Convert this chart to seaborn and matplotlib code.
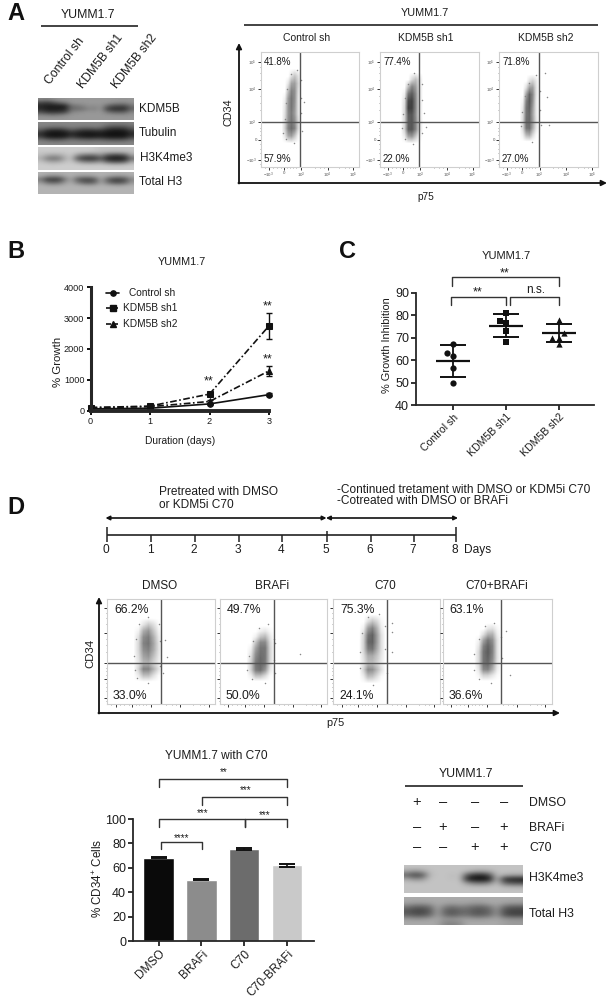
import numpy as np
import pandas as pd
import matplotlib
matplotlib.use('Agg')
import matplotlib.pyplot as plt
import seaborn as sns
from matplotlib.lines import Line2D

W, H = 612, 1000
TXT = '#1c1c1c'

###--- Panel B values
days = [0, 1, 2, 3]
growth_control = [60, 80, 220, 520]
growth_sh1 = [100, 150, 540, 2750]
growth_sh2 = [100, 130, 300, 1290]
err_control = [10, 10, 30, 40]
err_sh1 = [20, 20, 40, 430]
err_sh2 = [20, 20, 50, 170]

###--- Panel C values
inhib_groups = ['Control sh', 'KDM5B sh1', 'KDM5B sh2']
inhib_control = [67.3, 63, 62, 56.3, 49.7]
inhib_sh1 = [81, 77.5, 76.5, 73, 68]
inhib_sh2 = [78, 72, 70, 70, 67]
inhib_mean = [59.6, 75.3, 72]
inhib_sd = [7, 5, 4]

###--- Panel D bars
bar_groups = ['DMSO', 'BRAFi', 'C70', 'C70-BRAFi']
bar_values = [68.4, 50.4, 75.6, 62]
bar_err = [0.2, 0.7, 0.7, 1.0]
bar_colors = ['#0a0a0a', '#8c8c8c', '#6c6c6c', '#c9c9c9']

###--- Flow cytometry, A
flow_a_titles = ['Control sh', 'KDM5B sh1', 'KDM5B sh2']
flow_a_upper = ['41.8%', '77.4%', '71.8%']
flow_a_lower = ['57.9%', '22.0%', '27.0%']
flow_a_xext = [(22, 40), (22, 42), (22, 40)]
flow_a_yext = [(22, 83), (22, 80), (23, 78)]
density_a1 = [[0, 0, 10, 18, 10], [0, 8, 28, 30, 15], [0, 20, 38, 34, 12],
              [5, 30, 42, 34, 10], [8, 32, 42, 32, 10], [10, 32, 40, 30, 10],
              [12, 34, 42, 34, 14], [15, 38, 45, 38, 14], [8, 26, 30, 18, 4]]
density_a2 = [[0, 0, 12, 20, 10], [0, 20, 38, 30, 10], [5, 42, 50, 36, 10],
              [10, 55, 58, 38, 10], [12, 58, 58, 38, 10], [12, 50, 52, 36, 10],
              [12, 48, 52, 38, 12], [14, 50, 52, 38, 12], [6, 28, 32, 18, 4]]
density_a3 = [[0, 0, 10, 15, 8], [0, 10, 30, 30, 10], [0, 28, 48, 36, 10],
              [4, 38, 50, 34, 8], [8, 42, 48, 30, 8], [10, 42, 46, 28, 8],
              [12, 44, 46, 30, 10], [12, 42, 44, 26, 8], [5, 22, 26, 12, 2]]
dots_a = [
    [(44, 56.5), (42, 31), (22, 30), (24, 42), (26, 56), (27, 68), (31, 81), (37, 84), (41, 76), (40.5, 60), (41, 47), (34, 21), (25, 24)],
    [(46.7, 35), (44.6, 47), (22, 34), (23, 46), (25, 60), (28, 72), (35, 82), (43, 72), (43, 58), (42.5, 30), (33, 20), (25, 24)],
    [(46, 82), (48.5, 61), (42.5, 36.5), (50.5, 36.5), (22, 36), (23, 48), (26, 62), (30, 73), (37, 80), (41, 66), (41, 50), (33, 22)],
]

###--- Flow cytometry, D
flow_d_titles = ['DMSO', 'BRAFi', 'C70', 'C70+BRAFi']
flow_d_upper = ['66.2%', '49.7%', '75.3%', '63.1%']
flow_d_lower = ['33.0%', '50.0%', '24.1%', '36.6%']
flow_d_xext = [(26, 51), (26.5, 50), (26, 48.6), (29.7, 52.5)]
flow_d_yext = [(23, 80), (23, 73), (21, 83), (23, 75)]
density_d1 = [[0, 8, 16, 10, 2], [4, 25, 32, 18, 5], [10, 35, 40, 25, 8],
              [12, 38, 42, 28, 10], [12, 34, 38, 26, 10], [10, 28, 32, 20, 8],
              [8, 22, 24, 14, 6], [14, 38, 38, 24, 10], [6, 20, 20, 10, 2]]
density_d2 = [[0, 0, 5, 8, 3], [0, 5, 18, 22, 8], [0, 18, 36, 36, 12],
              [4, 28, 42, 42, 14], [8, 34, 44, 42, 14], [12, 38, 46, 42, 14],
              [14, 42, 46, 40, 12], [14, 40, 44, 32, 8], [5, 20, 20, 12, 2]]
density_d3 = [[0, 10, 18, 12, 3], [5, 30, 38, 24, 6], [12, 42, 48, 30, 10],
              [14, 46, 48, 30, 10], [14, 40, 42, 26, 10], [10, 26, 26, 18, 8],
              [8, 20, 20, 14, 6], [14, 36, 34, 22, 10], [6, 20, 18, 10, 2]]
density_d4 = [[0, 0, 8, 10, 3], [0, 10, 24, 24, 6], [4, 28, 42, 34, 10],
              [8, 38, 48, 38, 10], [12, 42, 50, 38, 10], [12, 42, 48, 36, 10],
              [12, 42, 46, 32, 8], [8, 36, 38, 24, 6], [3, 14, 14, 8, 2]]
dots_d = [
    [(53.7, 61), (55.8, 45), (26, 32), (25, 46), (27, 62), (30, 76), (38, 83), (48, 76), (49, 60), (49, 36), (38, 20), (28, 25), (52, 30)],
    [(74.5, 47.6), (51.7, 58), (26, 32), (27, 46), (31, 60), (37, 72), (45, 76), (51, 62), (51, 42), (42, 20), (30, 24), (52, 30)],
    [(54.8, 77), (54.8, 68.6), (55.3, 49.5), (25, 34), (25, 50), (27, 68), (33, 83), (43, 86), (49, 74), (49, 52), (50, 30), (37, 18)],
    [(58, 70), (61.6, 27.6), (29, 32), (29, 48), (33, 62), (39, 74), (47, 77), (53, 64), (54, 44), (44, 20), (33, 24)],
]

###--- Western blots, grey levels read lane by lane
blot_kdm5b = [[135, 130, 140, 148, 150, 152, 152, 152, 152, 152, 152, 152, 152, 150, 150, 150],
              [70, 60, 75, 100, 115, 145, 150, 150, 152, 152, 152, 150, 140, 135, 135, 145],
              [40, 30, 30, 30, 35, 110, 120, 130, 145, 140, 150, 105, 80, 75, 75, 115],
              [45, 30, 30, 30, 35, 105, 110, 115, 135, 130, 150, 70, 50, 45, 50, 100],
              [80, 60, 55, 60, 70, 130, 140, 145, 150, 148, 152, 120, 100, 95, 100, 135],
              [135, 130, 125, 130, 140, 150, 152, 152, 152, 152, 152, 150, 148, 146, 146, 150],
              [150, 150, 150, 150, 150, 152, 152, 152, 152, 152, 152, 152, 152, 152, 152, 152]]
blot_tubulin = [[135, 135, 135, 135, 135, 135, 135, 135, 135, 135, 135, 130, 125, 125, 125, 130],
                [125, 120, 115, 115, 120, 128, 125, 120, 120, 125, 120, 90, 80, 80, 85, 105],
                [90, 55, 42, 42, 55, 85, 70, 55, 52, 60, 60, 40, 30, 30, 35, 70],
                [45, 22, 18, 18, 22, 40, 30, 22, 20, 22, 26, 18, 16, 16, 18, 40],
                [65, 32, 26, 26, 32, 60, 45, 32, 28, 32, 36, 26, 24, 24, 28, 60],
                [120, 105, 95, 95, 105, 118, 110, 105, 100, 105, 105, 95, 90, 90, 95, 115],
                [135, 135, 135, 135, 135, 135, 135, 135, 135, 135, 135, 135, 135, 135, 135, 135]]
blot_h3k4 = [[205, 205, 205, 205, 205, 205, 205, 205, 205, 200, 195, 195, 195, 195, 195, 195],
             [200, 200, 200, 200, 200, 205, 200, 195, 195, 190, 185, 180, 175, 175, 180, 190],
             [190, 170, 160, 165, 185, 200, 150, 120, 110, 115, 140, 90, 70, 70, 85, 160],
             [175, 130, 115, 125, 170, 195, 95, 60, 50, 55, 90, 40, 25, 25, 35, 110],
             [195, 175, 165, 170, 190, 200, 165, 135, 125, 130, 150, 105, 85, 85, 100, 165],
             [205, 205, 200, 205, 205, 205, 205, 200, 200, 200, 200, 195, 190, 190, 195, 200],
             [205, 205, 205, 205, 205, 205, 205, 205, 205, 205, 205, 205, 205, 205, 205, 205]]
blot_total = [[178, 178, 178, 178, 178, 178, 178, 178, 178, 178, 178, 178, 178, 178, 178, 178],
              [170, 150, 140, 145, 165, 175, 160, 155, 155, 165, 175, 165, 155, 150, 155, 170],
              [120, 65, 58, 62, 120, 165, 100, 75, 72, 90, 165, 105, 70, 65, 80, 135],
              [155, 115, 100, 110, 150, 172, 130, 100, 88, 105, 165, 120, 88, 82, 98, 150],
              [178, 172, 168, 170, 175, 178, 175, 170, 165, 170, 176, 172, 168, 165, 170, 176],
              [180, 180, 180, 180, 180, 180, 180, 180, 180, 180, 180, 180, 180, 180, 180, 180],
              [180, 180, 180, 180, 180, 180, 180, 180, 180, 180, 180, 180, 180, 180, 180, 180]]
blot_h3k4_d = [[195, 195, 195, 195, 195, 195, 195, 195, 195, 195, 195, 195, 195, 195, 195, 195],
               [165, 150, 165, 190, 195, 195, 195, 195, 185, 170, 165, 175, 192, 195, 195, 195],
               [100, 70, 85, 185, 195, 195, 188, 195, 90, 50, 45, 80, 190, 175, 165, 165],
               [165, 140, 150, 192, 195, 195, 190, 195, 40, 15, 12, 25, 185, 50, 35, 30],
               [195, 192, 192, 195, 195, 195, 195, 195, 150, 120, 115, 135, 190, 105, 85, 80],
               [195, 195, 195, 195, 195, 195, 195, 195, 192, 190, 190, 192, 195, 185, 180, 180],
               [195, 195, 195, 195, 195, 195, 195, 195, 195, 195, 195, 195, 195, 195, 195, 195]]
blot_total_d = [[170, 170, 170, 170, 170, 170, 170, 170, 170, 170, 170, 170, 170, 170, 170, 170],
                [160, 155, 155, 160, 168, 165, 160, 165, 160, 155, 155, 165, 168, 160, 155, 155],
                [115, 95, 95, 110, 165, 125, 110, 125, 120, 105, 100, 120, 155, 105, 90, 90],
                [85, 70, 70, 90, 160, 100, 85, 100, 105, 85, 85, 100, 145, 80, 65, 65],
                [100, 85, 85, 105, 160, 110, 95, 110, 115, 95, 95, 110, 150, 85, 70, 70],
                [155, 150, 150, 160, 165, 150, 150, 155, 160, 155, 155, 160, 165, 150, 145, 145],
                [170, 170, 170, 170, 165, 135, 130, 140, 170, 170, 170, 170, 170, 160, 155, 155]]

###--- Row labels, +/- table
treat_rows = ['DMSO', 'BRAFi', 'C70']
treat_signs = [['+', '\u2013', '\u2013', '\u2013'],
               ['\u2013', '+', '\u2013', '+'],
               ['\u2013', '\u2013', '+', '+']]
timeline_days = [0, 1, 2, 3, 4, 5, 6, 7, 8]


sns.set_theme(style='ticks')
plt.rcParams['font.family'] = ['Liberation Sans', 'DejaVu Sans']
plt.rcParams['text.color'] = TXT
plt.rcParams['axes.labelcolor'] = TXT
plt.rcParams['xtick.labelcolor'] = TXT
plt.rcParams['ytick.labelcolor'] = TXT
plt.rcParams['mathtext.default'] = 'regular'

fig = plt.figure(figsize=(W / 100, H / 100), dpi=100)


def px_axes(x0, y0, x1, y1):
    return fig.add_axes([x0 / W, 1 - y1 / H, (x1 - x0) / W, (y1 - y0) / H])


###--- Overlay in picture pixels, for text, brackets and arrows
ov = fig.add_axes([0, 0, 1, 1], zorder=20)
ov.set_xlim(0, W)
ov.set_ylim(H, 0)
ov.axis('off')
ov.patch.set_alpha(0)


def put(x, y, s, size=8, ha='center', va='center', **kw):
    ov.text(x, y, s, fontsize=size, ha=ha, va=va, **kw)


def hline(x0, x1, y, lw=1.2, color='#222222'):
    ov.add_line(Line2D([x0, x1], [y, y], lw=lw, color=color, solid_capstyle='butt'))


def vline(x, y0, y1, lw=1.2, color='#222222'):
    ov.add_line(Line2D([x, x], [y0, y1], lw=lw, color=color, solid_capstyle='butt'))


def bracket(x0, x1, y, foot, lw=1.0, color='#333333'):
    ov.add_line(Line2D([x0, x0, x1, x1], [foot, y, y, foot], lw=lw, color=color))


def arrow(x0, y0, x1, y1, style='-|>', lw=1.2, scale=8):
    ov.annotate('', xy=(x1, y1), xytext=(x0, y0),
                arrowprops=dict(arrowstyle=style, lw=lw, color='#111111', shrinkA=0, shrinkB=0,
                                mutation_scale=scale))


def blot(grid, x0, y0, x1, y1):
    ax = px_axes(x0, y0, x1, y1)
    ax.imshow(np.array(grid, dtype=float), cmap='gray', vmin=0, vmax=255, aspect='auto',
              interpolation='bicubic')
    ax.axis('off')


def flow_panel(box, density, xext, yext, vpos, dots, labels=False):
    ax = px_axes(*box)
    grid = np.pad(np.array(density, dtype=float), 1)
    dx = (xext[1] - xext[0]) / 5 * 0.7
    dy = (yext[1] - yext[0]) / 9 * 0.7
    ax.imshow(grid, cmap='gray_r', vmin=0, vmax=78, aspect='auto', interpolation='bilinear',
              extent=(xext[0] - dx, xext[1] + dx, yext[0] - dy, yext[1] + dy))
    sns.scatterplot(x=[p[0] for p in dots], y=[p[1] for p in dots], s=1.2, color='#888888',
                    linewidth=0, legend=False, ax=ax)
    ax.set_xlim(0, 100)
    ax.set_ylim(0, 100)
    ax.axvline(vpos, color='#555555', lw=1.0)
    ax.axhline(39, color='#555555', lw=1.0)
    for s in ax.spines.values():
        s.set_color('#cfcfcf')
        s.set_linewidth(0.8)
    ax.set_xticks([8, 23.5, 41, 68, 94])
    ax.set_yticks([6, 23.5, 39, 67.8, 91.3])
    ax.set_xticks([4, 12, 16, 20, 27, 30, 33, 36, 55, 60, 64, 80, 86, 90], minor=True)
    ax.set_yticks([3, 12, 16, 20, 28, 31, 34, 50, 56, 62, 76, 82, 87], minor=True)
    ax.tick_params(which='major', length=2, width=0.7, color='#333333', pad=1, direction='out')
    ax.tick_params(which='minor', length=1, width=0.4, color='#555555', direction='out')
    if labels:
        ax.set_xticklabels(['$-10^3$', '0', '$10^3$', '$10^4$', '$10^5$'], fontsize=3.2, color='#555555')
        ax.set_yticklabels(['$-10^3$', '0', '$10^3$', '$10^4$', '$10^5$'], fontsize=3.2, color='#555555')
    else:
        ax.set_xticklabels([])
        ax.set_yticklabels([])
    return ax


###--- Panel A
put(16, 13, 'A', 17, weight='bold', color='#111111')
put(88, 15, 'YUMM1.7', 8.8)
hline(41, 137.5, 26, 1.2)
for cx, s in zip([65, 101, 135], flow_a_titles):
    put(cx, 61, s, 8.8, rotation=52, rotation_mode='anchor')
blot(blot_kdm5b, 37.5, 98, 133, 120)
blot(blot_tubulin, 37.5, 122, 133, 145)
blot(blot_h3k4, 37.5, 147, 133, 170)
blot(blot_total, 37.5, 172, 133, 194)
put(139, 109, 'KDM5B', 8.5, ha='left')
put(139, 133, 'Tubulin', 8.5, ha='left')
put(140, 158, 'H3K4me3', 8.5, ha='left')
put(139, 182, 'Total H3', 8.5, ha='left')

put(425, 13, 'YUMM1.7', 7.8)
hline(244, 598, 25, 1.2)
a_boxes = [(261, 52, 359, 167), (380, 52, 478.5, 167), (499, 52, 598, 167)]
a_dens = [density_a1, density_a2, density_a3]
for i in range(3):
    box = a_boxes[i]
    flow_panel(box, a_dens[i], flow_a_xext[i], flow_a_yext[i], 40, dots_a[i], labels=True)
    put((box[0] + box[2]) / 2 - 3, 38, flow_a_titles[i], 7.5)
    put(box[0] + 3, 62, flow_a_upper[i], 7, ha='left')
    put(box[0] + 3, 159, flow_a_lower[i], 7, ha='left')
arrow(239, 183.5, 239, 43, lw=1.3)
arrow(238.4, 183, 607, 183, lw=1.3)
put(228, 112, 'CD34', 7.8, rotation=90)
put(426, 197, 'p75', 7.3)

###--- Panel B
put(16, 251, 'B', 17, weight='bold', color='#111111')
put(182, 262, 'YUMM1.7', 7.8)
growth_df = pd.DataFrame({
    'day': days * 3,
    'growth': growth_control + growth_sh1 + growth_sh2,
    'line': ['Control sh'] * 4 + ['KDM5B sh1'] * 4 + ['KDM5B sh2'] * 4,
})
ax_b = px_axes(90.6, 287.3, 269, 410.7)
sns.lineplot(data=growth_df, x='day', y='growth', style='line', color='#111111', linewidth=1.2,
             markers={'Control sh': 'o', 'KDM5B sh1': 's', 'KDM5B sh2': '^'},
             dashes={'Control sh': (1, 0), 'KDM5B sh1': (4, 1.5, 1, 1.5), 'KDM5B sh2': (4, 1.5, 1, 1.5)},
             markersize=4, markeredgecolor='#111111', errorbar=None, legend=False, clip_on=False, ax=ax_b)
for vals, errs in zip([growth_control, growth_sh1, growth_sh2], [err_control, err_sh1, err_sh2]):
    ax_b.errorbar(days, vals, yerr=errs, fmt='none', ecolor='#111111', elinewidth=1, capsize=2.5,
                  capthick=1, clip_on=False)
ax_b.set_xlim(0, 3)
ax_b.set_ylim(0, 4000)
ax_b.set_xticks(days)
ax_b.set_yticks([0, 1000, 2000, 3000, 4000])
ax_b.tick_params(labelsize=6.6, length=3, width=1.4, pad=1.5, color='#111111')
ax_b.set_xlabel('')
ax_b.set_ylabel('')
sns.despine(ax=ax_b)
ax_b.spines['left'].set_linewidth(2.2)
ax_b.spines['bottom'].set_linewidth(2.8)
put(180, 441, 'Duration (days)', 7.4)
put(58, 362, '% Growth', 8.2, rotation=90)
for y, s, mk, ls, tx in zip([293, 308, 324], ['Control sh', 'KDM5B sh1', 'KDM5B sh2'], ['o', 's', '^'],
                            ['-', (0, (3, 1.2)), (0, (3, 1.2))], [129, 123, 123]):
    ov.add_line(Line2D([106, 119], [y, y], color='#111111', lw=1.2, ls=ls))
    ov.add_line(Line2D([112.5], [y], color='#111111', marker=mk, markersize=3.8))
    put(tx, y, s, 7.3, ha='left')
for x, y in [(209, 380), (268, 305.7), (268, 358)]:
    put(x, y + 1, '**', 9)

###--- Panel C
put(348, 252, 'C', 17, weight='bold', color='#111111')
put(506, 256, 'YUMM1.7', 8)
ax_c = px_axes(416, 292.7, 594, 405)
for name, vals, mk in zip(inhib_groups, [inhib_control, inhib_sh1, inhib_sh2], ['o', 's', '^']):
    sns.swarmplot(x=[name] * len(vals), y=vals, order=inhib_groups, color='#111111', marker=mk, size=4.5,
                  ax=ax_c)
ax_c.errorbar(range(3), inhib_mean, yerr=inhib_sd, fmt='none', ecolor='#111111', elinewidth=1.3,
              capsize=9.5, capthick=1.4)
sns.pointplot(x=inhib_groups, y=inhib_mean, order=inhib_groups, linestyle='none', marker='_',
              markersize=24, markeredgewidth=1.6, color='#111111', ax=ax_c)
ax_c.set_xlim(-0.70, 2.66)
ax_c.set_ylim(40, 90)
ax_c.set_yticks([40, 50, 60, 70, 80, 90])
ax_c.tick_params(axis='y', labelsize=9, length=3.5, width=1.2, pad=1.5, color='#111111')
ax_c.tick_params(axis='x', labelsize=7.6, length=3.5, width=1.2, pad=1.5, color='#111111')
plt.setp(ax_c.get_xticklabels(), rotation=45, ha='right', rotation_mode='anchor')
sns.despine(ax=ax_c)
ax_c.spines['left'].set_linewidth(1.3)
ax_c.spines['bottom'].set_linewidth(1.3)
put(387.5, 345, '% Growth Inhibition', 7.9, rotation=90)
bracket(452, 559, 277.3, 285.7)
bracket(451, 506, 296.7, 305)
bracket(510, 559, 296.7, 305)
put(505, 273, '**', 9)
put(478, 292, '**', 9)
put(536, 290, 'n.s.', 8.6)

###--- Panel D timeline
put(16, 507, 'D', 17, weight='bold', color='#111111')
put(159, 492, 'Pretreated with DMSO', 8.6, ha='left')
put(159, 505, 'or KDM5i C70', 8.6, ha='left')
put(337, 490, '-Continued tretament with DMSO or KDM5i C70', 8.6, ha='left')
put(337, 501, '-Cotreated with DMSO or BRAFi', 8.6, ha='left')
arrow(105.5, 518, 326.5, 518, style='<|-|>', lw=1.2, scale=6)
arrow(326, 518, 458, 518, style='<|-|>', lw=1.2, scale=6)
hline(107, 456, 535, 1.2)
tick_px = [107, 151, 195, 239, 282, 327, 371, 414, 456]
for d, x in zip(timeline_days, tick_px):
    if d in (0, 5, 8):
        vline(x, 527 if d != 5 else 531, 542, 1.1)
    else:
        vline(x, 535, 542, 1.1)
    put(x - 1, 550, str(d), 8.6)
put(464, 550, 'Days', 8.6, ha='left')

###--- Panel D flow
d_boxes = [(107, 599, 215, 704), (219.5, 599, 327, 704), (333, 599, 440, 704), (442.5, 599, 552, 704)]
d_vpos = [50, 50.7, 50.5, 53.4]
d_dens = [density_d1, density_d2, density_d3, density_d4]
for i in range(4):
    box = d_boxes[i]
    flow_panel(box, d_dens[i], flow_d_xext[i], flow_d_yext[i], d_vpos[i], dots_d[i])
    put((box[0] + box[2]) / 2 - 1, 586, flow_d_titles[i], 8.5)
    put(box[0] + 7, 610, flow_d_upper[i], 8.8, ha='left')
    put(box[0] + 6, 696, flow_d_lower[i], 8.8, ha='left')
arrow(99, 713.5, 99, 597, lw=1.3)
arrow(98.4, 713, 560, 713, lw=1.3)
put(90.6, 653, 'CD34', 8.2, rotation=90)
put(335, 723, 'p75', 7.8)

###--- Panel D bars
put(216, 756, 'YUMM1.7 with C70', 8.6)
ax_d = px_axes(133, 819, 314.5, 941)
sns.barplot(x=bar_groups, y=bar_values, hue=bar_groups, order=bar_groups, hue_order=bar_groups,
            palette=bar_colors, width=0.71, errorbar=None, legend=False, saturation=1, ax=ax_d)
ax_d.errorbar(range(4), bar_values, yerr=bar_err, fmt='none', ecolor='#111111', elinewidth=1.2,
              capsize=6, capthick=1.4)
ax_d.set_xlim(-0.6, 3.64)
ax_d.set_ylim(0, 100)
ax_d.set_yticks([0, 20, 40, 60, 80, 100])
ax_d.tick_params(axis='y', labelsize=9, length=3.5, width=1.2, pad=1.5, color='#111111')
ax_d.tick_params(axis='x', labelsize=8.6, length=3.5, width=1.2, pad=1.5, color='#111111')
plt.setp(ax_d.get_xticklabels(), rotation=45, ha='right', rotation_mode='anchor')
sns.despine(ax=ax_d)
ax_d.spines['left'].set_linewidth(1.3)
ax_d.spines['bottom'].set_linewidth(1.3)
put(98, 878, '% CD34$^{+}$ Cells', 8.4, rotation=90)
bracket(159, 287, 779, 787)
bracket(202, 287, 797, 805)
bracket(159, 245, 819, 827)
bracket(245, 287, 819, 827)
bracket(161, 202, 842, 849)
put(224, 772, '**', 7)
put(246, 790, '***', 7)
put(203, 813, '***', 7)
put(265, 815, '***', 7)
put(182, 838, '****', 7)

###--- Panel D right blot
put(466, 774, 'YUMM1.7', 8.8)
hline(405, 522.5, 786, 1.2)
for r, (name, y_sign, y_lab) in enumerate(zip(treat_rows, [802, 827, 847], [803, 828, 848])):
    for sign, x in zip(treat_signs[r], [417, 443, 475, 504]):
        put(x, y_sign, sign, 10.5)
    put(529, y_lab, name, 8.8, ha='left')
blot(blot_h3k4_d, 404, 865, 522.6, 893)
blot(blot_total_d, 404, 897, 522.6, 925)
put(529, 878, 'H3K4me3', 8.8, ha='left')
put(529, 914, 'Total H3', 8.8, ha='left')

fig.savefig('out.png', dpi=100)
